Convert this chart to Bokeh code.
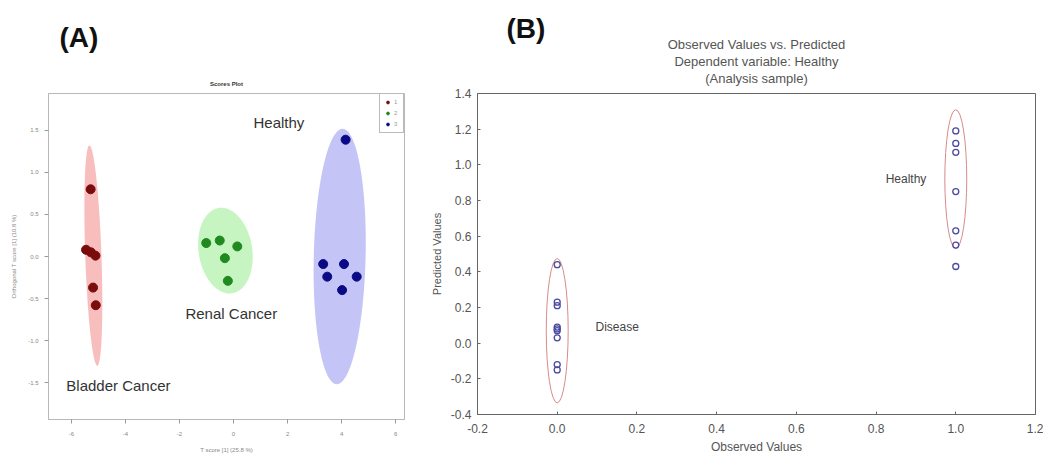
import numpy as np
from bokeh.plotting import figure
from bokeh.layouts import row
from bokeh.models import (Title, Range1d, FixedTicker, NumeralTickFormatter,
                          Legend, LegendItem, ColumnDataSource)
from bokeh.embed import file_html
from bokeh.resources import INLINE
from bokeh.core.properties import value

FONT = "Liberation Sans"

# ---------------- Panel A : Scores plot ----------------
bladder_x = [-5.29, -5.46, -5.28, -5.11, -5.20, -5.10]
bladder_y = [0.80, 0.08, 0.05, 0.01, -0.37, -0.58]
renal_x = [-1.01, -0.51, 0.14, -0.32, -0.21]
renal_y = [0.16, 0.19, 0.12, -0.02, -0.29]
healthy_x = [4.15, 3.32, 4.09, 3.47, 4.56, 4.02]
healthy_y = [1.39, -0.09, -0.09, -0.24, -0.24, -0.40]

# confidence ellipses (centre, semi-axes, shear) per group
ell_names = ["Bladder Cancer", "Renal Cancer", "Healthy"]
ell_cx = [-5.19, -0.30, 3.93]
ell_cy = [0.01, 0.07, 0.00]
ell_rx = [0.30, 1.00, 0.96]
ell_ry = [1.31, 0.51, 1.52]
ell_shear = [-0.11, -0.30, 0.07]
ell_fill = ["#f6a8a8", "#b4f2ac", "#b0b0f4"]
pt_color = ["#7a0c0c", "#1f8a1f", "#0a0a86"]

a_x_ticks = [-6, -4, -2, 0, 2, 4, 6]
a_y_ticks = [-1.5, -1.0, -0.5, 0.0, 0.5, 1.0, 1.5]

a_text = ["Healthy", "Renal Cancer", "Bladder Cancer"]
a_text_x = [0.74, -1.78, -6.19]
a_text_y = [1.60, -0.68, -1.54]

# ---------------- Panel B : Observed vs predicted ----------------
obs_disease = [0.0, 0.0, 0.0, 0.0, 0.0, 0.0, 0.0, 0.0, 0.0]
pred_disease = [0.44, 0.23, 0.21, 0.09, 0.08, 0.07, 0.03, -0.12, -0.15]
obs_healthy = [1.0, 1.0, 1.0, 1.0, 1.0, 1.0, 1.0]
pred_healthy = [1.19, 1.12, 1.07, 0.85, 0.63, 0.55, 0.43]

b_ell_cx = [0.0, 1.0]
b_ell_cy = [0.07, 0.92]
b_ell_w = [0.055, 0.055]
b_ell_h = [0.81, 0.78]

b_text = ["Disease", "Healthy"]
b_text_x = [0.096, 0.824]
b_text_y = [0.09, 0.923]

b_x_ticks = [-0.2, 0.0, 0.2, 0.4, 0.6, 0.8, 1.0, 1.2]
b_y_ticks = [-0.4, -0.2, 0.0, 0.2, 0.4, 0.6, 0.8, 1.0, 1.2, 1.4]
b_title_lines = ["Observed Values vs. Predicted", "Dependent variable: Healthy", "(Analysis sample)"]


def ellipse_poly(cx, cy, rx, ry, shear, n=120):
    t = np.linspace(0, 2 * np.pi, n)
    dy = ry * np.sin(t)
    xs = cx + rx * np.cos(t) + shear * dy
    ys = cy + dy
    return list(xs), list(ys)


# ---------- figure A ----------
pA = figure(frame_width=356, frame_height=326,
            x_range=Range1d(-6.85, 6.33), y_range=Range1d(-1.94, 1.94),
            output_backend="svg", toolbar_location=None,
            min_border_left=48, min_border_top=93, min_border_right=9, min_border_bottom=34)
pA.grid.visible = False
pA.outline_line_color = "#b8b8b8"

for i in range(3):
    xs, ys = ellipse_poly(ell_cx[i], ell_cy[i], ell_rx[i], ell_ry[i], ell_shear[i])
    pA.patch(xs, ys, fill_color=ell_fill[i], fill_alpha=0.75, line_color=None)

rB = pA.scatter(bladder_x, bladder_y, size=9, color=pt_color[0])
rR = pA.scatter(renal_x, renal_y, size=9, color=pt_color[1])
rH = pA.scatter(healthy_x, healthy_y, size=9, color=pt_color[2])

pA.text(x="x", y="y", text="t",
        source=ColumnDataSource(dict(x=a_text_x, y=a_text_y, t=a_text)),
        text_font=value(FONT), text_font_size="15px", text_color="#333333",
        text_baseline="middle", text_align="left")

legA = Legend(items=[LegendItem(label="1", renderers=[rB]),
                     LegendItem(label="2", renderers=[rR]),
                     LegendItem(label="3", renderers=[rH])],
              location="top_right", label_text_font_size="6px", label_text_color="#999999",
              glyph_width=7, glyph_height=8, label_height=8, label_width=5, spacing=3,
              padding=4, margin=0, border_line_color="#777777", label_standoff=3,
              label_text_font=FONT)
pA.add_layout(legA)

for ax in (pA.xaxis[0], pA.yaxis[0]):
    ax.axis_line_color = "#b8b8b8"
    ax.major_tick_line_color = "#999999"
    ax.major_tick_out = 4
    ax.major_tick_in = 0
    ax.minor_tick_line_color = None
    ax.major_label_text_font_size = "6px"
    ax.major_label_text_color = "#888888"
    ax.major_label_text_font = FONT
    ax.axis_label_text_font_size = "6px"
    ax.axis_label_text_color = "#888888"
    ax.axis_label_text_font = FONT
    ax.axis_label_text_font_style = "normal"
pA.xaxis.ticker = FixedTicker(ticks=a_x_ticks)
pA.yaxis.ticker = FixedTicker(ticks=a_y_ticks)
pA.xaxis.formatter = NumeralTickFormatter(format="0")
pA.yaxis.formatter = NumeralTickFormatter(format="0.0")
pA.xaxis.major_label_standoff = 8
pA.yaxis.major_label_standoff = 6
pA.xaxis.axis_label = "T score [1] (25.8 %)"
pA.yaxis.axis_label = "Orthogonal T score [1] (10.8 %)"
pA.xaxis.axis_label_standoff = 8
pA.yaxis.axis_label_standoff = 8

# outermost title: panel letter; inner: plot title
pA.title.text = "(A)"
pA.title.text_font = FONT
pA.title.text_font_size = "28px"
pA.title.text_font_style = "bold"
pA.title.text_color = "#111111"
pA.title.align = "left"
pA.title.offset = 11
pA.title.standoff = 38
pA.add_layout(Title(text="Scores Plot", text_font=FONT, text_font_size="6px",
                    text_font_style="bold", text_color="#333333", align="center",
                    offset=1, standoff=14), "above")

# ---------- figure B ----------
pB = figure(frame_width=558, frame_height=321,
            x_range=Range1d(-0.2, 1.2), y_range=Range1d(-0.4, 1.4),
            output_backend="svg", toolbar_location=None,
            min_border_left=64, min_border_top=93, min_border_right=8, min_border_bottom=39)
pB.grid.visible = False
pB.outline_line_color = "#666666"

pB.ellipse(x=b_ell_cx, y=b_ell_cy, width=b_ell_w, height=b_ell_h,
           fill_color=None, line_color="#d98a8a", line_width=1)
pB.scatter(obs_disease, pred_disease, size=6, marker="circle", fill_color=None,
           line_color="#4a4aa0", line_width=1.3)
pB.scatter(obs_healthy, pred_healthy, size=6, marker="circle", fill_color=None,
           line_color="#4a4aa0", line_width=1.3)

pB.text(x="x", y="y", text="t",
        source=ColumnDataSource(dict(x=b_text_x, y=b_text_y, t=b_text)),
        text_font=value(FONT), text_font_size="12px", text_color="#444444",
        text_baseline="middle", text_align="left")

for ax in pB.axis:
    ax.axis_line_color = "#666666"
    ax.major_tick_line_color = "#666666"
    ax.major_tick_out = 0
    ax.major_tick_in = 3
    ax.minor_tick_line_color = None
    ax.major_label_text_font_size = "12px"
    ax.major_label_text_color = "#555555"
    ax.major_label_text_font = FONT
    ax.axis_label_text_font_size = "12px"
    ax.axis_label_text_color = "#555555"
    ax.axis_label_text_font = FONT
    ax.axis_label_text_font_style = "normal"
pB.xaxis.ticker = FixedTicker(ticks=b_x_ticks)
pB.xaxis.formatter = NumeralTickFormatter(format="0.0")
pB.yaxis.ticker = FixedTicker(ticks=b_y_ticks)
pB.yaxis.formatter = NumeralTickFormatter(format="0.0")
pB.yaxis.axis_label_text_font_size = "11px"
pB.xaxis.major_label_standoff = 9
pB.yaxis.major_label_standoff = 6
pB.xaxis.axis_label = "Observed Values"
pB.yaxis.axis_label = "Predicted Values"
pB.xaxis.axis_label_standoff = 4
pB.yaxis.axis_label_standoff = 5

pB.title.text = "(B)"
pB.title.text_font = FONT
pB.title.text_font_size = "28px"
pB.title.text_font_style = "bold"
pB.title.text_color = "#111111"
pB.title.align = "left"
pB.title.offset = 29
pB.title.standoff = -31
# title lines stacked from the frame upward: last line first
for txt, so in zip(reversed(b_title_lines), [15, -14, 13]):
    pB.add_layout(Title(text=txt, text_font=FONT, text_font_size="13px", text_font_style="normal",
                        text_color="#555555", align="center", offset=-8, standoff=so), "above")

layout = row(pA, pB)
open("out.html", "w").write(file_html(layout, INLINE))
